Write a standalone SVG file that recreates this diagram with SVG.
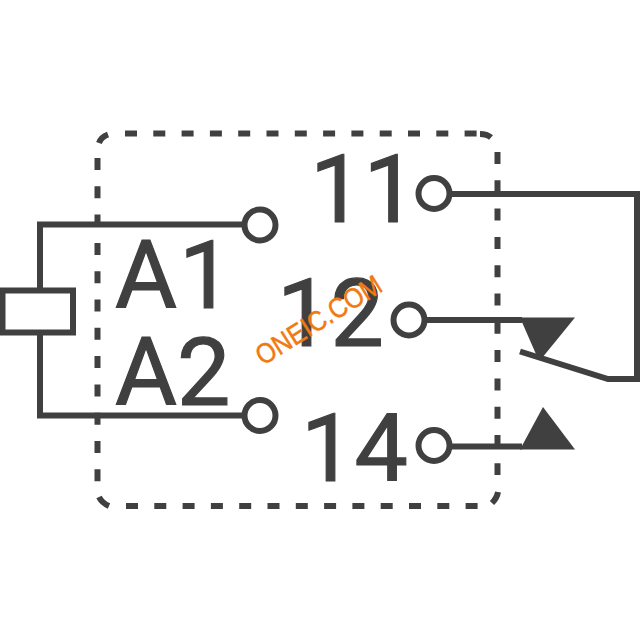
<svg xmlns="http://www.w3.org/2000/svg" width="640" height="640" viewBox="0 0 640 640">
<style>
.l{fill:none;stroke:#404041;stroke-width:6}
.d{fill:none;stroke:#404041;stroke-width:6;stroke-dasharray:12 16.300}
.t{font-family:Roboto,"Liberation Sans",Arial,sans-serif;font-size:95px;fill:#404041;stroke:#404041;stroke-width:1.200}
.p{fill:#404041}
.c{fill:#fff;stroke:#404041;stroke-width:6}
</style>
<rect width="640" height="640" fill="#fff"/>
<g id="enclosure">
<path class="d" d="M125 133.500H478"/>
<path class="d" d="M497.500 152V475"/>
<path class="d" d="M126 506H478"/>
<path class="d" d="M97.500 158V483"/>
<path class="l" d="M99 143Q101 137 108 134.500"/>
<path class="l" d="M480 134Q487 134 491 137.500"/>
<path class="l" d="M498 492Q497 498 492 503"/>
<path class="l" d="M99 497Q102 503 109 506"/>
</g>
<g id="connectors">
<path class="l" d="M40 291V224.500H246"/>
<path class="l" d="M40 333V415.500H246"/>
<path class="l" d="M450 194H637V379H608L520 351.500"/>
<path class="l" d="M425 320H522"/>
<path class="l" d="M450 446.500H522"/>
</g>
<g id="coil"><rect class="l" x="2.500" y="290.500" width="70.500" height="42"/></g>
<g id="triangle-nc"><polygon class="p" points="520,317.500 575,317.500 542,358 537,356.500"/></g>
<g id="triangle-no"><polygon class="p" points="520,449.500 575,449.500 543,407"/></g>
<g id="terminal-A1"><circle class="c" cx="260" cy="225" r="15.500"/><text class="t" x="115" y="308">A<tspan dx="2">1</tspan></text></g>
<g id="terminal-A2"><circle class="c" cx="260" cy="415.500" r="15.500"/><text class="t" x="115" y="405">A2</text></g>
<g id="terminal-11"><circle class="c" cx="434" cy="193.500" r="15.500"/><text class="t" x="310" y="222">11</text></g>
<g id="terminal-12"><circle class="c" cx="409" cy="320" r="15.500"/><text class="t" x="277" y="346">12</text></g>
<g id="terminal-14"><circle class="c" cx="434" cy="445.500" r="15.500"/><text class="t" x="301" y="481">14</text></g>
<g id="watermark"><text transform="translate(263 366) rotate(-32)" font-family="Liberation Sans,Arial,sans-serif" font-size="28" textLength="143" lengthAdjust="spacingAndGlyphs" fill="#f07a10" stroke="#f07a10" stroke-width=".5">ONEIC.COM</text></g>
</svg>
